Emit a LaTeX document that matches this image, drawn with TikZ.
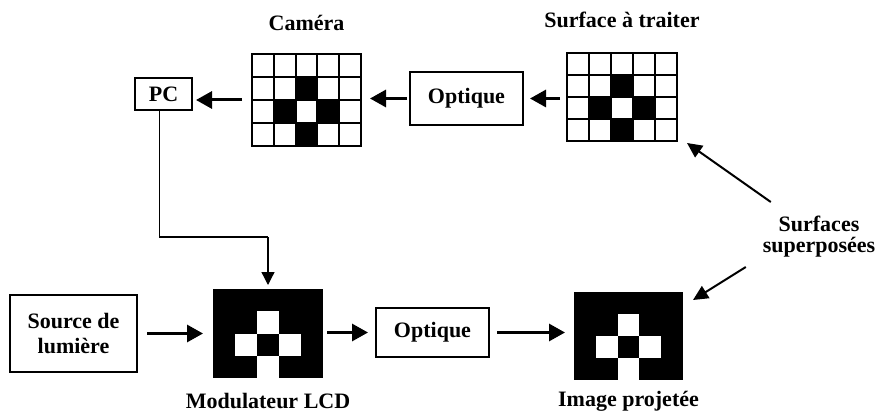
\documentclass[tikz,border=0pt]{standalone}
\usepackage{fontspec}
\setmainfont{Liberation Serif}
\usetikzlibrary{arrows.meta,calc}

% ruled 5x4 sensor grid with dark marked cells
\newcommand\lightgrid[3]{%
  \begin{scope}[shift={(#1.north west)}, x=#2, y=-#3]
    \foreach \c/\r in {2/1,1/2,3/2,2/3} \fill (\c,\r) rectangle ++(1,1);
    \foreach \i in {1,...,4} \draw[line width=1.9pt] (\i,0) -- (\i,4);
    \foreach \j in {1,2,3} \draw[line width=1.9pt] (0,\j) -- (5,\j);
    \draw[line width=2.9pt] (0,0) rectangle (5,4);
  \end{scope}}

% dark 5x4 screen with light cross pattern
\newcommand\darkgrid[3]{%
  \begin{scope}[shift={(#1.north west)}, x=#2, y=-#3]
    \fill (0,0) rectangle (5,4);
    \foreach \c/\r in {2/1,1/2,3/2,2/3} \fill[white] (\c,\r) rectangle ++(1,1);
  \end{scope}}

\begin{document}
\begin{tikzpicture}[x=1pt,y=-1pt,
  every node/.style={font=\bfseries\fontsize{22pt}{24pt}\selectfont},
  box/.style={draw, line width=1.6pt, inner sep=0pt, outer sep=0pt, align=center},
  area/.style={inner sep=0pt, outer sep=0pt},
  lbl/.style={anchor=base, inner sep=0pt},
  flow/.style={line width=3pt, -{Triangle[length=16pt,width=17pt]}},
  slant/.style={line width=2pt, -{Triangle[length=15pt,width=14pt]}},
  link/.style={line width=1.3pt},
  drop/.style={line width=1.3pt, -{Triangle[length=13pt,width=13pt]}}]

\useasboundingbox (0,0) rectangle (878,417);

% boxes
\node[box, minimum width=57pt, minimum height=32pt] (pc) at (163.5,94) {PC};
\node[box, minimum width=113pt, minimum height=53pt] (opt1) at (466.5,98.5) {Optique};
\node[box, minimum width=113pt, minimum height=49pt] (opt2) at (432.5,332.5) {Optique};
\node[box, line width=1.9pt, minimum width=127pt, minimum height=77pt,
      font=\bfseries\fontsize{22pt}{25pt}\selectfont] (src) at (73.5,333.5) {Source de\\lumière};

% grids and screens
\node[area, minimum width=109pt, minimum height=92pt] (cam) at (306.5,100) {};
\node[area, minimum width=110pt, minimum height=88pt] (surf) at (622,97) {};
\node[area, minimum width=110pt, minimum height=89pt] (lcd) at (268,333.5) {};
\node[area, minimum width=109pt, minimum height=88pt] (img) at (628.5,336) {};
\lightgrid{cam}{21.8pt}{23pt}
\lightgrid{surf}{22pt}{22pt}
\darkgrid{lcd}{22pt}{22.25pt}
\darkgrid{img}{21.8pt}{22pt}

% labels
\node[lbl] (camlbl) at ([yshift=23pt]cam.north) {Caméra};
\node[lbl] (surflbl) at ([yshift=25pt]surf.north) {Surface à traiter};
\node[lbl] (lcdlbl) at ([yshift=-30pt]lcd.south) {Modulateur LCD};
\node[lbl] (imglbl) at ([yshift=-26pt]img.south) {Image projetée};
\node[area, align=center, font=\bfseries\fontsize{22pt}{21pt}\selectfont] (sup) at (819,237) {Surfaces\\superposées};

% optical path
\draw[flow] ([xshift=-7pt]surf.west |- opt1.east) -- ([xshift=7pt]opt1.east);
\draw[flow] ([xshift=-3pt]opt1.west) -- ([xshift=9pt]cam.east |- opt1.west);
\draw[flow] ([xshift=-10pt]cam.west) -- ([xshift=4pt]pc.east |- cam.west);
\draw[flow] ([xshift=10pt]src.east) -- ([xshift=-10pt]lcd.west |- src.east);
\draw[flow] ([xshift=4pt]lcd.east |- opt2.west) -- ([xshift=-8pt]opt2.west);
\draw[flow] ([xshift=8pt]opt2.east) -- ([xshift=-9pt]img.west |- opt2.east);

% control line from the PC to the modulator
\coordinate (bend) at (268,237);
\draw[link] ([xshift=-4pt]pc.south) |- (bend);
\draw[drop] (bend) -- ([yshift=4pt]lcd.north);

% superposition pointers
\draw[slant] ([xshift=8pt,yshift=35pt]sup.west) -- ([xshift=10pt,yshift=-2pt]surf.south east);
\draw[slant] ([xshift=-17pt,yshift=-30pt]sup.west) -- ([xshift=10pt,yshift=-8pt]img.north east);
\end{tikzpicture}
\end{document}
